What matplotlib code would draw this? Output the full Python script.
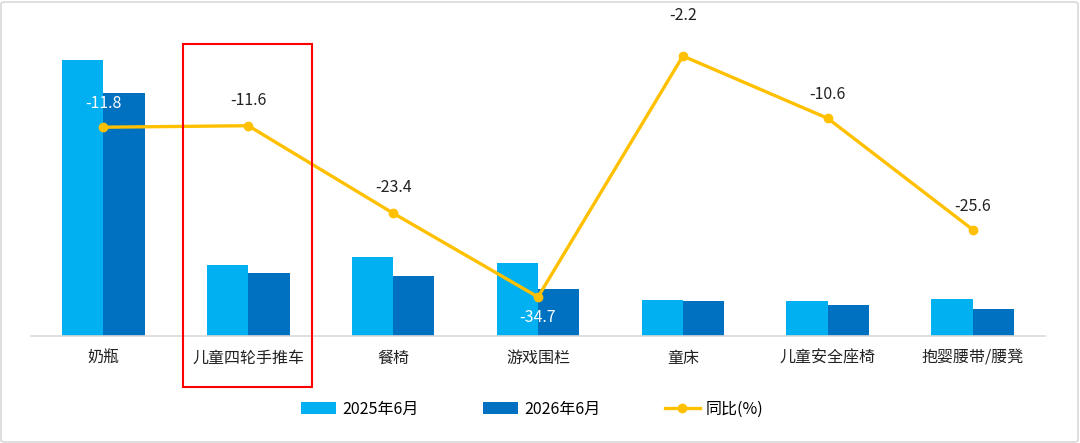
import matplotlib.pyplot as plt
from matplotlib.patches import Rectangle, FancyBboxPatch
import numpy as np

plt.rcParams['font.family'] = ['Noto Sans CJK SC', 'DejaVu Sans']

categories = ['奶瓶', '儿童四轮手推车', '餐椅', '游戏围栏', '童床', '儿童安全座椅', '抱婴腰带/腰凳']
sales_2025 = [276, 71, 79, 73, 36, 35, 37]
sales_2026 = [243, 63, 60, 47, 35, 31, 27]
yoy = [-11.8, -11.6, -23.4, -34.7, -2.2, -10.6, -25.6]
series_names = ['2025年6月', '2026年6月', '同比(%)']

C25 = '#00B0F0'
C26 = '#0070C0'
CLINE = '#FFC000'
FS = 11.5

W, H = 1080, 443
fig = plt.figure(figsize=(W / 100, H / 100), dpi=100)

# plot area in pixel coords
left, right, top, base = 31, 1045, 30, 336
ax = fig.add_axes([left / W, 1 - base / H, (right - left) / W, (base - top) / H])
ax2 = ax.twinx()

x = np.arange(len(categories))
bw = 0.285
ax.bar(x - bw / 2, sales_2025, bw, color=C25, label=series_names[0], zorder=2)
ax.bar(x + bw / 2, sales_2026, bw, color=C26, label=series_names[1], zorder=2)
ax.set_xlim(-0.5, len(categories) - 0.5)
ax.set_ylim(0, base - top)

ax2.plot(x, yoy, color=CLINE, lw=2.4, marker='o', ms=6, label=series_names[2], zorder=3)
ax2.set_ylim(-39.96, 1.31)

# label offsets (points): first and fourth sit on the bars in white
offsets = [17, 18, 18.5, -15, 29.5, 17.5, 16.5]
for i, v in enumerate(yoy):
    col = 'white' if i in (0, 3) else '#222222'
    ax2.annotate(f'{v}', (i, v), xytext=(0, offsets[i]), textcoords='offset points',
                 ha='center', va='center', fontsize=FS, color=col)

for a in (ax, ax2):
    for s in a.spines.values():
        s.set_visible(False)
    a.set_yticks([])
ax.spines['bottom'].set_visible(True)
ax.spines['bottom'].set_color('#D9D9D9')
ax.spines['bottom'].set_linewidth(1.2)
ax.set_xticks(x)
ax.set_xticklabels(categories, fontsize=FS, color='#222222')
ax.tick_params(axis='x', length=0, pad=10)

# legend
h1, l1 = ax.get_legend_handles_labels()
h2, l2 = ax2.get_legend_handles_labels()
fig.legend(h1 + h2, l1 + l2, loc='center', bbox_to_anchor=(0.493, 1 - 409 / H), ncol=3,
           frameon=False, fontsize=FS, handlelength=2.2, columnspacing=4.0, handletextpad=0.4)

# red highlight box
fig.add_artist(Rectangle((183 / W, 1 - 387 / H), (312 - 183) / W, (387 - 44) / H,
                         transform=fig.transFigure, fill=False, ec='#FF0000', lw=1.5))
# outer border
fig.add_artist(FancyBboxPatch((1 / W, 1 / H), (W - 3) / W, (H - 3) / H,
                              boxstyle='round,pad=0,rounding_size=0.004',
                              transform=fig.transFigure, fill=False, ec='#D9D9D9', lw=1.2))

fig.savefig('out.png', dpi=100)
